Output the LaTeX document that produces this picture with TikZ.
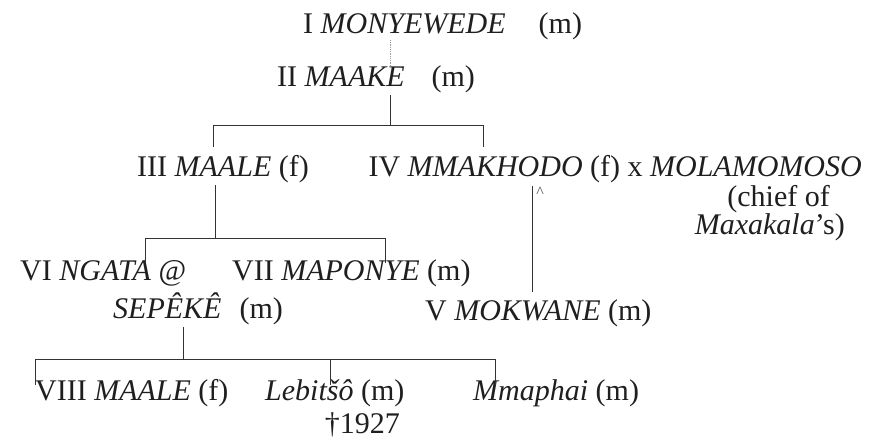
\documentclass[tikz,border=0pt]{standalone}
\usepackage{fontspec}
\setmainfont{Liberation Serif}
\begin{document}
\begin{tikzpicture}[x=1pt,y=-1pt,
  person/.style={anchor=base west,inner sep=0pt,text=black!88,font=\fontsize{30}{32}\selectfont},
  link/.style={line width=0.9pt,black!80},
  faint/.style={line width=0.8pt,black!40,densely dotted}]
\useasboundingbox (0,0) rectangle (874,439);

% generations I and II
\node[person] (g1) at (303,33) {I \textit{MONYEWEDE}\hspace{1.1em}(m)};
\node[person] (g2) at (277,86) {II \textit{MAAKE}\hspace{0.9em}(m)};

% generations III and IV
\node[person] (g3) at (137,176) {III \textit{MAALE} (f)};
\node[person,anchor=base east] (g4) at (862,176) {IV \textit{MMAKHODO} (f) x \textit{MOLAMOMOSO}};
\node[person,anchor=base east] (c1) at (830,206) {(chief of};
\node[person,anchor=base east] (c2) at (845,234) {\textit{Maxakala}'s)};
\node[inner sep=0pt,text=black!70,font=\fontsize{16}{16}\selectfont] (acc) at (540,192) {\^{}};

% generations VI, VII and V
\node[person] (g6) at (20,280) {VI \textit{NGATA} @};
\node[person] (g7) at (232,280) {VII \textit{MAPONYE} (m)};
\node[person] (g6b) at (113,318) {\textit{SEPÊKÊ}\hspace{0.6em}(m)};
\node[person] (g5) at (425,320) {V \textit{MOKWANE} (m)};

% generation VIII
\node[person] (g8) at (35,400) {VIII \textit{MAALE} (f)};
\node[person] (l1) at (265,400) {\textit{Lebitšô} (m)};
\node[person,anchor=base east] (d1) at (400,433) {†1927};
\node[person] (m1) at (473,400) {\textit{Mmaphai} (m)};

% junction points
\coordinate (a1) at (390,40);
\coordinate (a2) at (390,67);
\coordinate (b0) at (390,95);
\coordinate (b1) at (390,125);
\coordinate (bl) at (213,125);
\coordinate (br) at (483,125);
\coordinate (bl2) at (213,147);
\coordinate (br2) at (483,147);
\coordinate (c0) at (215,185);
\coordinate (cc) at (215,238);
\coordinate (cl) at (145,238);
\coordinate (cr) at (385,238);
\coordinate (cl2) at (145,263);
\coordinate (cr2) at (385,263);
\coordinate (e0) at (532,186);
\coordinate (e1) at (532,292);
\coordinate (f0) at (183,327);
\coordinate (fc) at (183,359);
\coordinate (fl) at (35,359);
\coordinate (fm) at (330,359);
\coordinate (fr) at (495,359);
\coordinate (fl2) at (35,385);
\coordinate (fm2) at (330,385);
\coordinate (fr2) at (495,385);

% descent lines
\draw[faint] (a1) -- (a2);
\draw[link] (b0) -- (b1);
\draw[link] (bl2) -- (bl) -- (br) -- (br2);
\draw[link] (c0) -- (cc);
\draw[link] (cl2) -- (cl) -- (cr) -- (cr2);
\draw[link] (e0) -- (e1);
\draw[link] (f0) -- (fc);
\draw[link] (fl2) -- (fl) -- (fr) -- (fr2);
\draw[link] (fm) -- (fm2);
\end{tikzpicture}
\end{document}
